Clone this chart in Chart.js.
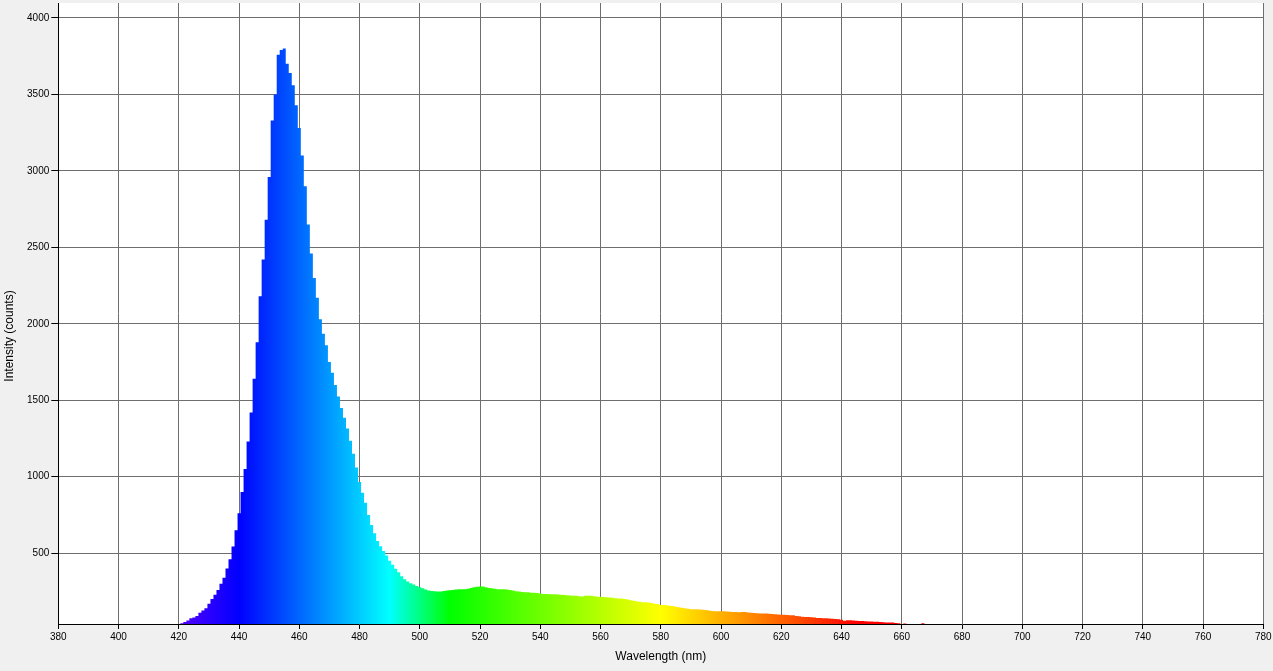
<!DOCTYPE html>
<html><head><meta charset="utf-8">
<script src="https://cdn.jsdelivr.net/npm/chart.js@4.4.1/dist/chart.umd.min.js"></script>
<style>html,body{margin:0;padding:0;background:#f0f0f0;overflow:hidden}canvas{display:block}</style>
</head><body>
<canvas id="c" width="1273" height="671"></canvas>
<script>
// Wavelength samples (nm)
const wavelengths = [
420,421,422,423,424,425,426,427,428,429,
430,431,432,433,434,435,436,437,438,439,
440,441,442,443,444,445,446,447,448,449,
450,451,452,453,454,455,456,457,458,459,
460,461,462,463,464,465,466,467,468,469,
470,471,472,473,474,475,476,477,478,479,
480,481,482,483,484,485,486,487,488,489,
490,491,492,493,494,495,496,497,498,499,
500,501,502,503,504,505,506,507,508,509,
510,511,512,513,514,515,516,517,518,519,
520,521,522,523,524,525,526,527,528,529,
530,531,532,533,534,535,536,537,538,539,
540,541,542,543,544,545,546,547,548,549,
550,551,552,553,554,555,556,557,558,559,
560,561,562,563,564,565,566,567,568,569,
570,571,572,573,574,575,576,577,578,579,
580,581,582,583,584,585,586,587,588,589,
590,591,592,593,594,595,596,597,598,599,
600,601,602,603,604,605,606,607,608,609,
610,611,612,613,614,615,616,617,618,619,
620,621,622,623,624,625,626,627,628,629,
630,631,632,633,634,635,636,637,638,639,
640,641,642,643,644,645,646,647,648,649,
650,651,652,653,654,655,656,657,658,659,
660,661,662,663,664,665,666,667,668
];
// Intensity (counts)
const intensity = [
30,42,50,60,74,80,90,110,125,140,
170,200,228,260,300,340,400,460,543,650,
761,900,1050,1230,1420,1640,1880,2180,2420,2680,
2960,3330,3500,3760,3790,3800,3700,3640,3560,3430,
3280,3100,2900,2650,2460,2300,2170,2030,1935,1860,
1750,1680,1600,1525,1450,1385,1315,1235,1150,1060,
965,895,830,750,685,630,580,545,515,485,
450,425,398,375,350,330,315,303,295,286,
277,270,262,256,252,251,249,250,252,256,
258,260,262,264,264,265,268,272,277,280,
282,283,278,273,270,267,265,264,264,262,
260,256,251,249,246,245,244,242,242,240,
236,234,234,232,231,231,230,229,226,225,
223,222,221,218,217,222,222,221,218,216,
216,214,212,210,208,205,204,203,200,197,
192,189,186,182,180,179,178,175,170,167,
162,161,159,157,155,150,146,143,140,137,
134,133,133,132,130,129,125,122,121,120,
120,120,119,117,116,115,114,115,116,113,
111,109,107,106,105,105,104,103,101,99,
98,97,96,95,94,90,87,85,83,82,
81,79,77,76,75,74,73,72,70,68,
64,59,61,61,60,58,57,56,55,54,
53,52,51,50,48,46,46,46,44,42,
36,40,33,30,30,30,32,42,30
];
const xTicks = [380,400,420,440,460,480,500,520,540,560,580,600,620,640,660,680,700,720,740,760,780];
const yTicks = [500,1000,1500,2000,2500,3000,3500,4000];
const xTitle = 'Wavelength (nm)';
const yTitle = 'Intensity (counts)';
const spectrumStops = [[380,'#ff00ff'],[440,'#0000ff'],[490,'#00ffff'],[510,'#00ff00'],[580,'#ffff00'],[645,'#ff0000'],[780,'#ff0000']];

const FONT = '"Liberation Sans", Arial, sans-serif';

function spectrumFill(ctx) {
  const chart = ctx.chart;
  const xs = chart.scales && chart.scales.x;
  if (!chart.chartArea || !xs) return '#0050ff';
  const lo = xs.min, hi = xs.max;
  const g = chart.ctx.createLinearGradient(xs.getPixelForValue(lo), 0, xs.getPixelForValue(hi), 0);
  spectrumStops.forEach(([w, c]) => g.addColorStop(Math.min(1, Math.max(0, (w - lo) / (hi - lo))), c));
  return g;
}

const plotBg = {
  id: 'plotBg',
  beforeDraw(chart) {
    const { ctx, chartArea: a } = chart;
    ctx.save();
    ctx.fillStyle = '#ffffff';
    ctx.fillRect(a.left, a.top, a.right - a.left, a.bottom - a.top);
    ctx.restore();
  }
};
const yTitlePlugin = {
  id: 'yTitleText',
  afterDraw(chart) {
    const ctx = chart.ctx;
    ctx.save();
    ctx.translate(10, 336);
    ctx.rotate(-Math.PI / 2);
    ctx.font = '12px ' + FONT;
    ctx.fillStyle = '#000';
    ctx.textAlign = 'center';
    ctx.textBaseline = 'middle';
    ctx.fillText(yTitle, 0, 0);
    ctx.restore();
  }
};

new Chart(document.getElementById('c'), {
  type: 'line',
  data: {
    datasets: [{
      label: 'Intensity',
      data: wavelengths.map((w, i) => ({ x: w, y: intensity[i] })),
      stepped: 'middle',
      fill: 'origin',
      backgroundColor: spectrumFill,
      borderColor: 'rgba(0,0,0,0)',
      borderWidth: 0,
      pointRadius: 0,
      tension: 0
    }]
  },
  options: {
    responsive: false,
    animation: false,
    devicePixelRatio: 1,
    layout: { padding: { left: 0, right: 9.7, top: 3, bottom: 0 } },
    plugins: { legend: { display: false }, tooltip: { enabled: false } },
    scales: {
      x: {
        type: 'linear', min: 380, max: 780,
        afterBuildTicks(s) { s.ticks = xTicks.map(v => ({ value: v })); },
        afterFit(s) { s.height = 47; s.paddingLeft = 0; s.paddingRight = 0; },
        ticks: { autoSkip: false, maxRotation: 0, padding: 2, color: '#000', font: { family: FONT, size: 10 }, callback: v => String(v) },
        grid: { color: '#6e6e6e', lineWidth: 1, tickLength: 5, tickColor: '#000' },
        border: { color: '#000', width: 1 },
        title: { display: true, text: xTitle, color: '#000', font: { family: FONT, size: 12 }, padding: { top: 0, bottom: 7 } }
      },
      y: {
        type: 'linear', min: 37, max: 4098,
        afterBuildTicks(s) { s.ticks = yTicks.map(v => ({ value: v })); },
        afterFit(s) { s.width = 58.3; s.paddingTop = 0; s.paddingBottom = 0; },
        ticks: { padding: 2, color: '#000', font: { family: FONT, size: 10 }, callback: v => String(v) },
        grid: { color: '#6e6e6e', lineWidth: 1, tickLength: 7, tickColor: '#000' },
        border: { color: '#000', width: 1 }
      }
    }
  },
  plugins: [plotBg, yTitlePlugin]
});
</script>
</body></html>
